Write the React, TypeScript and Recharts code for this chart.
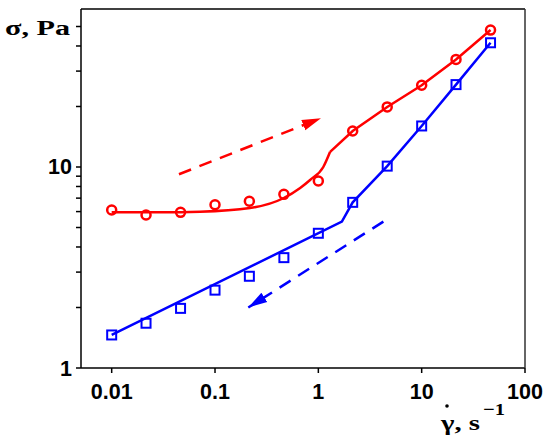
import React from "react";
import { ComposedChart, Line, XAxis, YAxis } from "recharts";

// measured shear rates (1/s) and stresses (Pa)
const shearRates = [0.01, 0.0215, 0.0464, 0.1, 0.215, 0.464, 1, 2.15, 4.64, 10, 21.5, 46.4];
const upStress = [6.11, 5.77, 5.95, 6.49, 6.75, 7.31, 8.52, 15.1, 19.9, 25.5, 34.3, 48.0];
const downStress = [1.46, 1.67, 1.98, 2.44, 2.86, 3.54, 4.68, 6.67, 10.1, 16.0, 25.7, 41.5];

// model curves
const upCurveRates = [0.01, 0.03, 0.0716, 0.218, 0.458, 0.667, 0.832, 1.117, 1.3];
const upCurveStress = [5.95, 5.95, 5.99, 6.25, 6.99, 7.87, 8.62, 10.0, 11.9];
const upStraightRates = [1.3, 2.15, 4.64, 10, 21.5, 46.4];
const upStraightStress = [11.9, 15.1, 19.9, 25.5, 34.3, 48.0];
const downFitRates = [0.01, 1.69, 2.15, 4.64, 10, 21.5, 46.4];
const downFitStress = [1.46, 5.35, 6.67, 10.1, 16.0, 25.7, 41.5];

// dashed direction arrows
const upArrowRates = [0.0448, 1.06];
const upArrowStress = [9.2, 17.5];
const downArrowRates = [4.26, 0.21];
const downArrowStress = [5.35, 2.0];

const xTicks = [0.01, 0.1, 1, 10, 100];
const yTicks = [1, 2, 3, 4, 5, 6, 7, 8, 9, 10, 20, 30, 40, 50];
const yLabelled = [1, 10];

const xDomain = [0.005047, 100];
const yDomain = [1, 61.1];

const RED = "#ff0000";
const BLUE = "#0000ff";

const toPoints = (xs: number[], ys: number[]) => xs.map((x, i) => ({ x, y: ys[i] }));

const sans = "'Liberation Sans', Arial, sans-serif";
const serif = "'Liberation Serif', 'Times New Roman', serif";

const XTick = ({ x, y, payload }: any) => (
  <g>
    <line x1={x} x2={x} y1={y} y2={y + 5} stroke="#000" strokeWidth={1.5} />
    <text x={x} y={y + 30.5} textAnchor="middle" fontFamily={sans} fontWeight="bold" fontSize={21.5} fill="#000">
      {String(payload.value)}
    </text>
  </g>
);

const YTick = ({ x, y, payload }: any) => (
  <g>
    <line x1={x - 5} x2={x} y1={y} y2={y} stroke="#000" strokeWidth={1.5} />
    {yLabelled.includes(payload.value) && (
      <text x={x - 9} y={y + 7.5} textAnchor="end" fontFamily={sans} fontWeight="bold" fontSize={21.5} fill="#000">
        {String(payload.value)}
      </text>
    )}
  </g>
);

const CircleDot = ({ cx, cy, index }: any) => (
  <circle key={`c${index}`} cx={cx} cy={cy} r={4.5} stroke={RED} strokeWidth={2.5} fill="none" />
);

const SquareDot = ({ cx, cy, index }: any) => (
  <rect key={`s${index}`} x={cx - 4.5} y={cy - 4.5} width={9} height={9} stroke={BLUE} strokeWidth={2} fill="none" />
);

export default function App() {
  return (
    <div style={{ position: "absolute", left: 0, top: 0, width: 550, height: 441, background: "#fff" }}>
      <ComposedChart width={550} height={441} margin={{ top: 8, right: 24, left: 0, bottom: 0 }}>
        <XAxis
          type="number"
          dataKey="x"
          scale="log"
          domain={xDomain}
          allowDataOverflow
          ticks={xTicks}
          interval={0}
          tickSize={0}
          tickMargin={0}
          tickLine={false}
          tick={<XTick />}
          height={73}
          axisLine={{ stroke: "#000", strokeWidth: 1.5 }}
        />
        <XAxis
          xAxisId="top"
          orientation="top"
          type="number"
          scale="log"
          domain={xDomain}
          allowDataOverflow
          tick={false}
          tickLine={false}
          height={1}
          axisLine={{ stroke: "#000", strokeWidth: 1.5 }}
        />
        <YAxis
          type="number"
          scale="log"
          domain={yDomain}
          allowDataOverflow
          ticks={yTicks}
          interval={0}
          tickSize={0}
          tickMargin={0}
          tickLine={false}
          tick={<YTick />}
          width={81}
          axisLine={{ stroke: "#000", strokeWidth: 1.5 }}
        />
        <YAxis
          yAxisId="right"
          orientation="right"
          type="number"
          scale="log"
          domain={yDomain}
          allowDataOverflow
          tick={false}
          tickLine={false}
          width={1}
          axisLine={{ stroke: "#333", strokeWidth: 1.5 }}
        />

        {/* model fits */}
        <Line data={toPoints(upCurveRates, upCurveStress)} dataKey="y" type="monotone" stroke={RED} strokeWidth={2.5} dot={false} activeDot={false} isAnimationActive={false} />
        <Line data={toPoints(upStraightRates, upStraightStress)} dataKey="y" type="linear" stroke={RED} strokeWidth={2.5} dot={false} activeDot={false} isAnimationActive={false} />
        <Line data={toPoints(downFitRates, downFitStress)} dataKey="y" type="linear" stroke={BLUE} strokeWidth={2.5} dot={false} activeDot={false} isAnimationActive={false} />

        {/* direction arrows */}
        <Line data={toPoints(upArrowRates, upArrowStress)} dataKey="y" type="linear" stroke={RED} strokeWidth={2.5} strokeDasharray="13 9" markerEnd="url(#arrowRed)" dot={false} activeDot={false} isAnimationActive={false} />
        <Line data={toPoints(downArrowRates, downArrowStress)} dataKey="y" type="linear" stroke={BLUE} strokeWidth={2.5} strokeDasharray="13 9" markerEnd="url(#arrowBlue)" dot={false} activeDot={false} isAnimationActive={false} />

        {/* measured points */}
        <Line data={toPoints(shearRates, upStress)} dataKey="y" stroke="none" dot={<CircleDot />} activeDot={false} isAnimationActive={false} />
        <Line data={toPoints(shearRates, downStress)} dataKey="y" stroke="none" dot={<SquareDot />} activeDot={false} isAnimationActive={false} />
      </ComposedChart>

      <svg width={550} height={441} style={{ position: "absolute", left: 0, top: 0, pointerEvents: "none" }}>
        <defs>
          <marker id="arrowRed" markerUnits="userSpaceOnUse" markerWidth={20} markerHeight={14} refX={19} refY={7} orient="auto">
            <path d="M0,1.5 L19,7 L0,12.5 z" fill={RED} />
          </marker>
          <marker id="arrowBlue" markerUnits="userSpaceOnUse" markerWidth={20} markerHeight={14} refX={19} refY={7} orient="auto">
            <path d="M0,1.5 L19,7 L0,12.5 z" fill={BLUE} />
          </marker>
        </defs>
        <text x={5} y={35} fontFamily={serif} fontWeight="bold" fontSize={20} textLength={65} lengthAdjust="spacingAndGlyphs" fill="#000">
          σ, Pa
        </text>
        <text x={441} y={430} fontFamily={serif} fontWeight="bold" fontSize={22} textLength={39} lengthAdjust="spacingAndGlyphs" fill="#000">
          γ, s
        </text>
        <circle cx={447} cy={406} r={1.8} fill="#000" />
        <text x={483} y={415} fontFamily={serif} fontWeight="bold" fontSize={17} textLength={22} lengthAdjust="spacingAndGlyphs" fill="#000">
          −1
        </text>
      </svg>
    </div>
  );
}
